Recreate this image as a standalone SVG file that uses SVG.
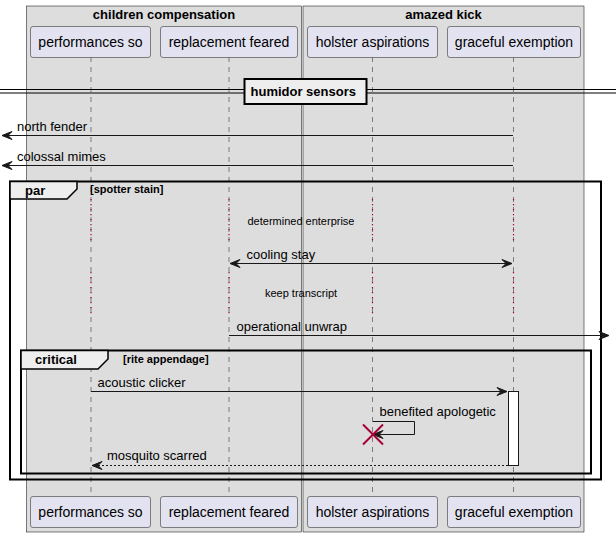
<svg xmlns="http://www.w3.org/2000/svg" width="616" height="537" viewBox="0 0 616 537">
<style>
text{font-family:"Liberation Sans",Arial,sans-serif;fill:#000}
.box{fill:#DDDDDD;stroke:#000;stroke-width:0.5}
.bt{font-size:13px;font-weight:bold;text-anchor:middle}
.part rect{fill:#E2E2F0;stroke:#181818;stroke-width:0.5}
.part text{font-size:14px;text-anchor:middle}
.life{stroke:#181818;stroke-width:0.5;stroke-dasharray:5,5;fill:none}
.delay{stroke:#A80036;stroke-width:1.2;stroke-dasharray:1.2,3.8;fill:none}
.msg{stroke:#181818;stroke-width:1;fill:none}
.dash{stroke-dasharray:2,2}
.ah{fill:#181818;stroke:#181818;stroke-width:1}
.mt{font-size:13px}
.dt{font-size:11px;text-anchor:middle}
.frame{fill:none;stroke:#000;stroke-width:2}
.tab{fill:#EEEEEE;stroke:#000;stroke-width:1.5}
.gl{font-size:13px;font-weight:bold}
.gc{font-size:11px;font-weight:bold}
</style>
<g id="box-children-compensation"><rect class="box" x="26.5" y="6" width="275" height="526"/><text class="bt" x="164" y="19">children compensation</text></g>
<g id="box-amazed-kick"><rect class="box" x="303" y="6" width="281" height="526"/><text class="bt" x="443.5" y="19">amazed kick</text></g>
<g id="lifelines">
<line class="life" x1="91" y1="57" x2="91" y2="497"/>
<line class="life" x1="229" y1="57" x2="229" y2="497"/>
<line class="life" x1="372.5" y1="57" x2="372.5" y2="497"/>
<line class="life" x1="513.5" y1="57" x2="513.5" y2="497"/>
<line class="delay" x1="91" y1="199" x2="91" y2="243"/>
<line class="delay" x1="229" y1="199" x2="229" y2="243"/>
<line class="delay" x1="372.5" y1="199" x2="372.5" y2="243"/>
<line class="delay" x1="513.5" y1="199" x2="513.5" y2="243"/>
<line class="delay" x1="91" y1="272" x2="91" y2="316"/>
<line class="delay" x1="229" y1="272" x2="229" y2="316"/>
<line class="delay" x1="372.5" y1="272" x2="372.5" y2="316"/>
<line class="delay" x1="513.5" y1="272" x2="513.5" y2="316"/>
</g>
<g id="performances-so" class="part"><rect x="30.5" y="26.5" width="120" height="31" rx="2.5"/><text x="90.5" y="47">performances so</text><rect x="30.5" y="496.5" width="120" height="31" rx="2.5"/><text x="90.5" y="517">performances so</text></g>
<g id="replacement-feared" class="part"><rect x="160.5" y="26.5" width="137" height="31" rx="2.5"/><text x="229" y="47">replacement feared</text><rect x="160.5" y="496.5" width="137" height="31" rx="2.5"/><text x="229" y="517">replacement feared</text></g>
<g id="holster-aspirations" class="part"><rect x="307.5" y="26.5" width="130" height="31" rx="2.5"/><text x="372.5" y="47">holster aspirations</text><rect x="307.5" y="496.5" width="130" height="31" rx="2.5"/><text x="372.5" y="517">holster aspirations</text></g>
<g id="graceful-exemption" class="part"><rect x="447.5" y="26.5" width="133" height="31" rx="2.5"/><text x="514" y="47">graceful exemption</text><rect x="447.5" y="496.5" width="133" height="31" rx="2.5"/><text x="514" y="517">graceful exemption</text></g>
<g id="divider-humidor-sensors">
<line x1="0" y1="89.5" x2="616" y2="89.5" stroke="#000" stroke-width="1"/>
<line x1="0" y1="93" x2="616" y2="93" stroke="#000" stroke-width="1"/>
<rect x="244.5" y="79" width="122" height="25" fill="#EEEEEE" stroke="#000" stroke-width="2"/>
<text x="250.5" y="96" style="font-size:13px;font-weight:bold">humidor sensors</text>
</g>
<g id="frame-par">
<rect class="frame" x="10" y="181.5" width="591" height="298"/>
<polygon class="tab" points="10,181.5 77,181.5 77,189 67,199 10,199"/>
<text class="gl" x="25" y="195">par</text>
<text class="gc" x="90" y="192.5">[spotter stain]</text>
</g>
<g id="frame-critical">
<rect class="frame" x="21" y="350.5" width="570" height="123"/>
<polygon class="tab" points="21,350.5 108,350.5 108,359 98,369 21,369"/>
<text class="gl" x="35" y="364">critical</text>
<text class="gc" x="123" y="362.5">[rite appendage]</text>
</g>
<g id="activation"><rect x="508.5" y="391.5" width="10" height="74" fill="#FFFFFF" stroke="#181818" stroke-width="1"/></g>
<g id="connectors">
<line class="msg" x1="513" y1="135.5" x2="3" y2="135.5"/>
<polygon class="ah" points="2,135.5 12,131.5 8,135.5 12,139.5"/>
<text class="mt" x="17" y="131">north fender</text>
<line class="msg" x1="513" y1="165.5" x2="3" y2="165.5"/>
<polygon class="ah" points="2,165.5 12,161.5 8,165.5 12,169.5"/>
<text class="mt" x="17" y="161">colossal mimes</text>
<text class="dt" x="301" y="225">determined enterprise</text>
<line class="msg" x1="231" y1="263.5" x2="511" y2="263.5"/>
<polygon class="ah" points="230,263.5 240,259.5 236,263.5 240,267.5"/>
<polygon class="ah" points="512,263.5 502,259.5 506,263.5 502,267.5"/>
<text class="mt" x="246.5" y="259">cooling stay</text>
<text class="dt" x="301" y="297">keep transcript</text>
<line class="msg" x1="229" y1="335.5" x2="608" y2="335.5"/>
<polygon class="ah" points="609,335.5 599,331.5 603,335.5 599,339.5"/>
<text class="mt" x="236.5" y="331">operational unwrap</text>
<line class="msg" x1="91" y1="391.5" x2="506" y2="391.5"/>
<polygon class="ah" points="507,391.5 497,387.5 501,391.5 497,395.5"/>
<text class="mt" x="97.5" y="387">acoustic clicker</text>
<polyline class="msg" points="373,421.5 414.5,421.5 414.5,434.5 374,434.5"/>
<polygon class="ah" points="373,434.5 383,430.5 379,434.5 383,438.5"/>
<text class="mt" x="379.5" y="416">benefited apologetic</text>
<line x1="363" y1="424.5" x2="383" y2="444.5" stroke="#A80036" stroke-width="2"/>
<line x1="363" y1="444.5" x2="383" y2="424.5" stroke="#A80036" stroke-width="2"/>
<line class="msg dash" x1="508" y1="465.5" x2="93" y2="465.5"/>
<polygon class="ah" points="92,465.5 102,461.5 98,465.5 102,469.5"/>
<text class="mt" x="107" y="460">mosquito scarred</text>
</g>
</svg>
